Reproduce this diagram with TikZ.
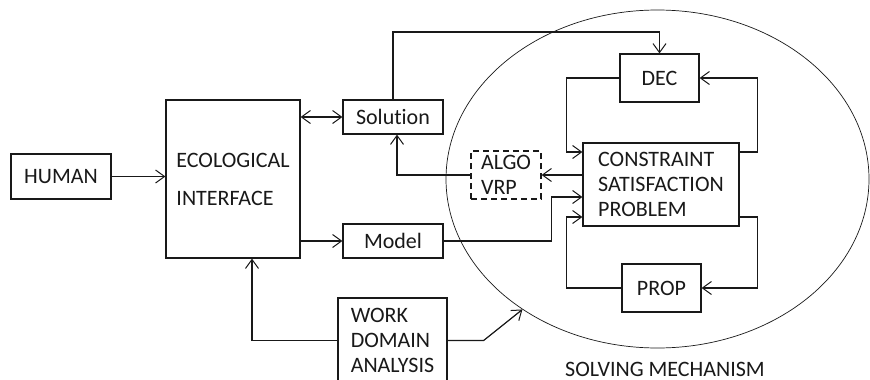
\documentclass[tikz,border=0pt]{standalone}
\usepackage{fontspec}
\setmainfont{Carlito}[Ligatures=NoCommon]
\usetikzlibrary{arrows.meta,calc,shapes.geometric}
\definecolor{figline}{RGB}{25,25,25}
\tikzset{
  blockbox/.style={draw=figline, line width=1.2pt, fill=white, inner sep=0pt, align=left, text=figline, font=\fontsize{22}{25}\selectfont},
  dashbox/.style={blockbox, dash pattern=on 6pt off 4pt},
  line/.style={-{Straight Barb[length=9pt,width=13pt,line width=1pt]}, draw=figline, line width=1.2pt},
  dualline/.style={{Straight Barb[length=9pt,width=13pt,line width=1pt]}-{Straight Barb[length=9pt,width=13pt,line width=1pt]}, draw=figline, line width=1.2pt},
  mechring/.style={ellipse, draw=figline, line width=0.7pt, inner sep=0pt},
  figlabel/.style={font=\fontsize{22}{25}\selectfont, text=figline}
}
\begin{document}
\begin{tikzpicture}[x=1pt,y=-1pt]
  \useasboundingbox (0,0) rectangle (870,380);
  % solving mechanism ring
  \node[mechring, minimum width=423pt, minimum height=338pt] (mech) at (657.5,179) {};
  \node[figlabel, inner sep=0pt] (mechLabel) at (665,369) {SOLVING MECHANISM};

  % blocks
  \node[blockbox, minimum width=100pt, minimum height=45pt, align=center] (human) at (61,176.5) {HUMAN};
  \node[blockbox, minimum width=134pt, minimum height=158pt] (eco) at (233,179) {ECOLOGICAL\\[13pt]INTERFACE};
  \node[blockbox, minimum width=100pt, minimum height=34pt, align=center] (solution) at (393,117) {Solution};
  \node[blockbox, minimum width=100pt, minimum height=34pt, align=center] (model) at (393,241) {Model};
  \node[blockbox, minimum width=109pt, minimum height=85pt] (wda) at (392.5,340.5) {WORK\\DOMAIN\\ANALYSIS};
  \node[dashbox, minimum width=70pt, minimum height=48pt] (algo) at (506,175) {ALGO\\VRP};
  \node[blockbox, minimum width=79pt, minimum height=48pt, align=center] (dec) at (659.5,78) {DEC};
  \node[blockbox, minimum width=156pt, minimum height=83pt] (csp) at (661,184.5) {CONSTRAINT\\SATISFACTION\\PROBLEM};
  \node[blockbox, minimum width=79pt, minimum height=48pt, align=center] (prop) at (661.5,288) {PROP};

  % connectors on the left
  \draw[line] (human.east) -- (human.east -| eco.west);
  \draw[dualline] (solution.west -| eco.east) -- (solution.west);
  \draw[line] (model.west -| eco.east) -- (model.west);
  \draw[line] (wda.west) -| ($(eco.south)+(19,0)$);
  \coordinate (topBend) at (0,32);
  \draw[line] (solution.north) |- (dec.north |- topBend) -- (dec.north);
  \draw[line] (algo.west) -| ($(solution.south)+(4,0)$);
  \draw[line] (model.east) -- ++(108,0) |- ($(csp.west)+(0,12.5)$);
  \draw[line] (wda.east) -- ++(36,0) -- (mech.224);

  % loops around the CSP
  \draw[line] (csp.west |- algo) -- (algo.east);
  \draw[line] (dec.west) -- ++(-53,0) |- ($(csp.west)+(0,-32.5)$);
  \draw[line] ($(csp.east)+(0,-32.5)$) -- ++(18,0) |- (dec.east);
  \draw[line] (prop.west) -- ++(-55,0) |- ($(csp.west)+(0,32.5)$);
  \draw[line] ($(csp.east)+(0,32.5)$) -- ++(18,0) |- (prop.east);
\end{tikzpicture}
\end{document}
